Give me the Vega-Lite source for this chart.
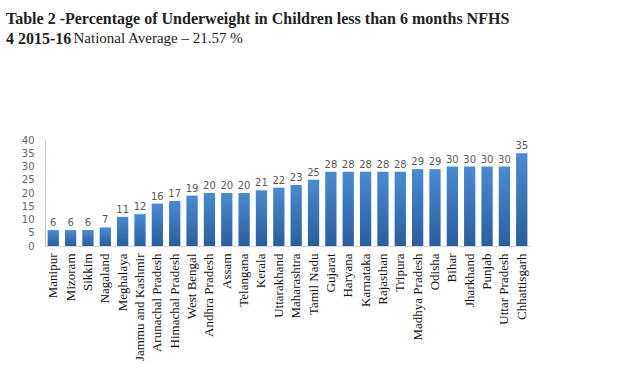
{
  "$schema": "https://vega.github.io/schema/vega-lite/v6.json",
  "width": 485,
  "height": 106,
  "autosize": "none",
  "padding": {"left": 45, "top": 140, "right": 96, "bottom": 119},
  "background": "white",
  "title": {
    "text": ["Table 2 -Percentage of Underweight in Children less than 6 months NFHS", "4 2015-16"],
    "subtitle": "\u200b\u2003\u2003\u2003\u2003\u2002National Average \u2013 21.57 %",
    "anchor": "start",
    "frame": "group",
    "dx": -39,
    "offset": 88,
    "font": "Liberation Serif",
    "fontSize": 16,
    "fontWeight": "bold",
    "lineHeight": 20,
    "color": "#222222",
    "subtitleFont": "Liberation Serif",
    "subtitleFontSize": 15,
    "subtitleFontWeight": "normal",
    "subtitleColor": "#222222",
    "subtitlePadding": -16
  },
  "data": {
    "values": [
      {"state": "Manipur", "value": 6},
      {"state": "Mizoram", "value": 6},
      {"state": "Sikkim", "value": 6},
      {"state": "Nagaland", "value": 7},
      {"state": "Meghalaya", "value": 11},
      {"state": "Jammu and Kashmir", "value": 12},
      {"state": "Arunachal Pradesh", "value": 16},
      {"state": "Himachal Pradesh", "value": 17},
      {"state": "West Bengal", "value": 19},
      {"state": "Andhra Pradesh", "value": 20},
      {"state": "Assam", "value": 20},
      {"state": "Telangana", "value": 20},
      {"state": "Kerala", "value": 21},
      {"state": "Uttarakhand", "value": 22},
      {"state": "Maharashtra", "value": 23},
      {"state": "Tamil Nadu", "value": 25},
      {"state": "Gujarat", "value": 28},
      {"state": "Haryana", "value": 28},
      {"state": "Karnataka", "value": 28},
      {"state": "Rajasthan", "value": 28},
      {"state": "Tripura", "value": 28},
      {"state": "Madhya Pradesh", "value": 29},
      {"state": "Odisha", "value": 29},
      {"state": "Bihar", "value": 30},
      {"state": "Jharkhand", "value": 30},
      {"state": "Punjab", "value": 30},
      {"state": "Uttar Pradesh", "value": 30},
      {"state": "Chhattisgarh", "value": 35}
    ]
  },
  "encoding": {
    "x": {
      "field": "state",
      "type": "nominal",
      "sort": null,
      "scale": {"paddingInner": 0.35, "paddingOuter": 0.15},
      "axis": {
        "title": null,
        "labelAngle": -90,
        "labelFont": "Liberation Serif",
        "labelFontSize": 13,
        "labelColor": "#111111",
        "labelPadding": 7,
        "ticks": false,
        "domainColor": "#d9d9d9",
        "labelLimit": 200
      }
    },
    "y": {
      "field": "value",
      "type": "quantitative",
      "scale": {"domain": [0, 40], "nice": false},
      "axis": {
        "title": null,
        "values": [0, 5, 10, 15, 20, 25, 30, 35, 40],
        "grid": false,
        "ticks": false,
        "labelFont": "DejaVu Sans",
        "labelFontSize": 10,
        "labelColor": "#666666",
        "labelPadding": 11,
        "domainColor": "#bfbfbf"
      }
    }
  },
  "layer": [
    {
      "mark": {
        "type": "bar",
        "color": {
          "gradient": "linear",
          "x1": 0, "y1": 0, "x2": 0, "y2": 1,
          "stops": [
            {"offset": 0, "color": "#4a8ad4"},
            {"offset": 1, "color": "#2b5d9e"}
          ]
        }
      }
    },
    {
      "mark": {
        "type": "text",
        "dy": -7,
        "font": "DejaVu Sans",
        "fontSize": 10,
        "color": "#595959"
      },
      "encoding": {"text": {"field": "value", "type": "quantitative"}}
    }
  ],
  "config": {"view": {"stroke": null}}
}
